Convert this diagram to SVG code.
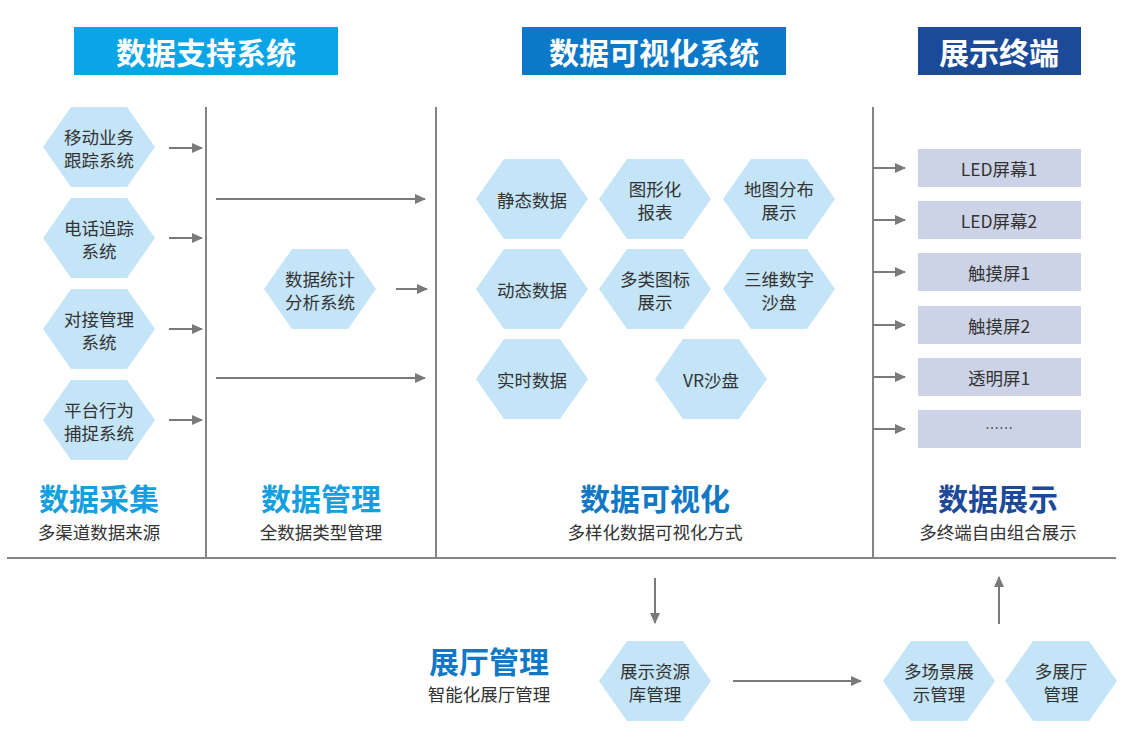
<svg xmlns="http://www.w3.org/2000/svg" xmlns:xlink="http://www.w3.org/1999/xlink" width="1125" height="743" viewBox="0 0 1125 743">
<style>
text{font-family:"Noto Sans CJK SC","Noto Sans",sans-serif;text-anchor:middle;dominant-baseline:central}
.hdr{font-size:30px;font-weight:700;fill:#fff}
.t{font-size:17.5px;fill:#333}
.big{font-size:30px;font-weight:700}
.sub{font-size:17.5px;fill:#333}
.hex{fill:#c4e4f7}
.box{fill:#cdd3e7}
.div{stroke:#858585;stroke-width:2;fill:none}
.arr{stroke:#7a7a7a;stroke-width:2;fill:none;marker-end:url(#ah)}
</style>
<defs>
<marker id="ah" markerUnits="userSpaceOnUse" markerWidth="11" markerHeight="10" refX="10" refY="5" orient="auto"><path d="M0,0 L11,5 L0,10 z" fill="#7a7a7a"/></marker>
<polygon id="hx" points="-56,0 -28,-40 28,-40 56,0 28,40 -28,40"/>
</defs>
<rect width="1125" height="743" fill="#fff"/>

<g id="headers">
<rect x="74" y="27" width="264" height="48" fill="#0aa5e6"/>
<text class="hdr" x="206" y="51">数据支持系统</text>
<rect x="522" y="27" width="264" height="48" fill="#0b78c8"/>
<text class="hdr" x="654" y="51">数据可视化系统</text>
<rect x="918" y="27" width="163" height="48" fill="#1a4a98"/>
<text class="hdr" x="999" y="51">展示终端</text>
</g>

<g id="dividers">
<line class="div" x1="206" y1="107" x2="206" y2="558"/>
<line class="div" x1="436" y1="107" x2="436" y2="558"/>
<line class="div" x1="873" y1="107" x2="873" y2="558"/>
<line class="div" x1="7" y1="558" x2="1116" y2="558"/>
</g>

<g id="n-yidong"><use xlink:href="#hx" class="hex" x="99" y="147"/><text class="t" x="99" y="136">移动业务</text><text class="t" x="99" y="159">跟踪系统</text></g>
<g id="n-dianhua"><use xlink:href="#hx" class="hex" x="99" y="238"/><text class="t" x="99" y="227">电话追踪</text><text class="t" x="99" y="250">系统</text></g>
<g id="n-duijie"><use xlink:href="#hx" class="hex" x="99" y="329"/><text class="t" x="99" y="318">对接管理</text><text class="t" x="99" y="341">系统</text></g>
<g id="n-pingtai"><use xlink:href="#hx" class="hex" x="99" y="420"/><text class="t" x="99" y="409">平台行为</text><text class="t" x="99" y="432">捕捉系统</text></g>

<g id="n-tongji"><use xlink:href="#hx" class="hex" x="320" y="289"/><text class="t" x="320" y="278">数据统计</text><text class="t" x="320" y="301">分析系统</text></g>

<g id="n-jingtai"><use xlink:href="#hx" class="hex" x="532" y="199"/><text class="t" x="532" y="199">静态数据</text></g>
<g id="n-tuxing"><use xlink:href="#hx" class="hex" x="655" y="199"/><text class="t" x="655" y="188">图形化</text><text class="t" x="655" y="211">报表</text></g>
<g id="n-ditu"><use xlink:href="#hx" class="hex" x="779" y="199"/><text class="t" x="779" y="188">地图分布</text><text class="t" x="779" y="211">展示</text></g>
<g id="n-dongtai"><use xlink:href="#hx" class="hex" x="532" y="289"/><text class="t" x="532" y="289">动态数据</text></g>
<g id="n-duolei"><use xlink:href="#hx" class="hex" x="655" y="289"/><text class="t" x="655" y="278">多类图标</text><text class="t" x="655" y="301">展示</text></g>
<g id="n-sanwei"><use xlink:href="#hx" class="hex" x="779" y="289"/><text class="t" x="779" y="278">三维数字</text><text class="t" x="779" y="301">沙盘</text></g>
<g id="n-shishi"><use xlink:href="#hx" class="hex" x="532" y="379"/><text class="t" x="532" y="379">实时数据</text></g>
<g id="n-vr"><use xlink:href="#hx" class="hex" x="711" y="379"/><text class="t" x="711" y="379">VR沙盘</text></g>

<g id="n-led1"><rect class="box" x="918" y="149" width="163" height="38"/><text class="t" x="999" y="168">LED屏幕1</text></g>
<g id="n-led2"><rect class="box" x="918" y="201" width="163" height="38"/><text class="t" x="999" y="220">LED屏幕2</text></g>
<g id="n-touch1"><rect class="box" x="918" y="253" width="163" height="38"/><text class="t" x="999" y="272">触摸屏1</text></g>
<g id="n-touch2"><rect class="box" x="918" y="306" width="163" height="38"/><text class="t" x="999" y="325">触摸屏2</text></g>
<g id="n-touming"><rect class="box" x="918" y="358" width="163" height="38"/><text class="t" x="999" y="377">透明屏1</text></g>
<g id="n-more"><rect class="box" x="918" y="410" width="163" height="38"/><text class="t" x="999" y="427" style="font-size:14px">……</text></g>

<g id="labels">
<text class="big" x="99" y="497" fill="#159fe0">数据采集</text>
<text class="sub" x="99" y="531">多渠道数据来源</text>
<text class="big" x="321" y="497" fill="#159fe0">数据管理</text>
<text class="sub" x="321" y="531">全数据类型管理</text>
<text class="big" x="655" y="497" fill="#1178c6">数据可视化</text>
<text class="sub" x="655" y="531">多样化数据可视化方式</text>
<text class="big" x="998" y="497" fill="#1c4a98">数据展示</text>
<text class="sub" x="998" y="531">多终端自由组合展示</text>
<text class="big" x="489" y="660" fill="#1178c6">展厅管理</text>
<text class="sub" x="489" y="693">智能化展厅管理</text>
</g>

<g id="n-ziyuan"><use xlink:href="#hx" class="hex" x="655" y="681"/><text class="t" x="655" y="670">展示资源</text><text class="t" x="655" y="693">库管理</text></g>
<g id="n-changjing"><use xlink:href="#hx" class="hex" x="939" y="681"/><text class="t" x="939" y="670">多场景展</text><text class="t" x="939" y="693">示管理</text></g>
<g id="n-zhanting"><use xlink:href="#hx" class="hex" x="1061" y="681"/><text class="t" x="1061" y="670">多展厅</text><text class="t" x="1061" y="693">管理</text></g>

<g id="connectors">
<line class="arr" x1="169" y1="148" x2="202" y2="148"/>
<line class="arr" x1="169" y1="238" x2="202" y2="238"/>
<line class="arr" x1="169" y1="329" x2="202" y2="329"/>
<line class="arr" x1="169" y1="420" x2="202" y2="420"/>
<line class="arr" x1="216" y1="199" x2="425" y2="199"/>
<line class="arr" x1="216" y1="378" x2="425" y2="378"/>
<line class="arr" x1="396" y1="289" x2="427" y2="289"/>
<line class="arr" x1="873" y1="168" x2="905" y2="168"/>
<line class="arr" x1="873" y1="220" x2="905" y2="220"/>
<line class="arr" x1="873" y1="272" x2="905" y2="272"/>
<line class="arr" x1="873" y1="325" x2="905" y2="325"/>
<line class="arr" x1="873" y1="377" x2="905" y2="377"/>
<line class="arr" x1="873" y1="429" x2="905" y2="429"/>
<line class="arr" x1="655" y1="578" x2="655" y2="623"/>
<line class="arr" x1="733" y1="681" x2="861" y2="681"/>
<line class="arr" x1="999" y1="624" x2="999" y2="577"/>
</g>
</svg>
